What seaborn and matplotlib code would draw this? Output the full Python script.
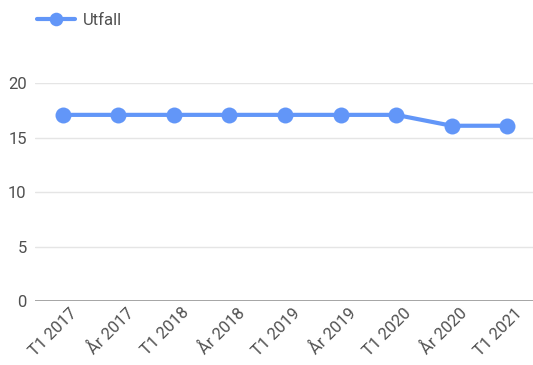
import matplotlib
matplotlib.use("Agg")
import matplotlib.pyplot as plt
import matplotlib.transforms as mtransforms
import seaborn as sns
import pandas as pd

periods = ["T1 2017", "År 2017", "T1 2018", "År 2018", "T1 2019",
           "År 2019", "T1 2020", "År 2020", "T1 2021"]
utfall = [17.1, 17.1, 17.1, 17.1, 17.1, 17.1, 17.1, 16.1, 16.1]
y_ticks = [0, 5, 10, 15, 20]

sns.set_theme(style="white")
plt.rcParams["font.family"] = ["Roboto", "DejaVu Sans"]

df = pd.DataFrame({"period": periods, "x": range(len(periods)), "Utfall": utfall})

fig = plt.figure(figsize=(5.33, 3.65), dpi=100)
ax = fig.add_axes([35 / 533, 1 - 301 / 365, 500 / 533, (301 - 83.3) / 365])

blue = "#6296f8"
sns.lineplot(data=df, x="x", y="Utfall", ax=ax, color=blue, linewidth=3.0,
             marker="o", markersize=11.5, markeredgewidth=0, label="Utfall")

ax.set_xlim(-0.5, len(periods) - 0.5)
ax.set_ylim(0, 20)
ax.set_yticks(y_ticks)
ax.set_yticklabels([str(t) for t in y_ticks], color="#505050", fontsize=12)
ax.set_xticks(range(len(periods)))
ax.set_xticklabels(periods, rotation=45, ha="right", rotation_mode="anchor",
                   color="#505050", fontsize=12)
ax.tick_params(axis="both", length=0, pad=6)
ax.tick_params(axis="x", pad=3)
shift = mtransforms.ScaledTranslation(7 / 100, 0, fig.dpi_scale_trans)
for lbl in ax.get_xticklabels():
    lbl.set_transform(lbl.get_transform() + shift)
ax.set_xlabel("")
ax.set_ylabel("")

for t in y_ticks[1:]:
    ax.axhline(t, color="#e5e5e5", linewidth=1, zorder=0)
ax.axhline(0, color="#9e9e9e", linewidth=1.3, zorder=1)
for s in ax.spines.values():
    s.set_visible(False)

leg = ax.legend(loc="upper left", bbox_to_anchor=(-5 / 500, (301 - 6) / (301 - 83.3)),
                frameon=False, fontsize=12, handlelength=2.3, borderaxespad=0,
                handletextpad=0.5, markerscale=0.85)
for text in leg.get_texts():
    text.set_color("#505050")

fig.savefig("out.png", dpi=100)
